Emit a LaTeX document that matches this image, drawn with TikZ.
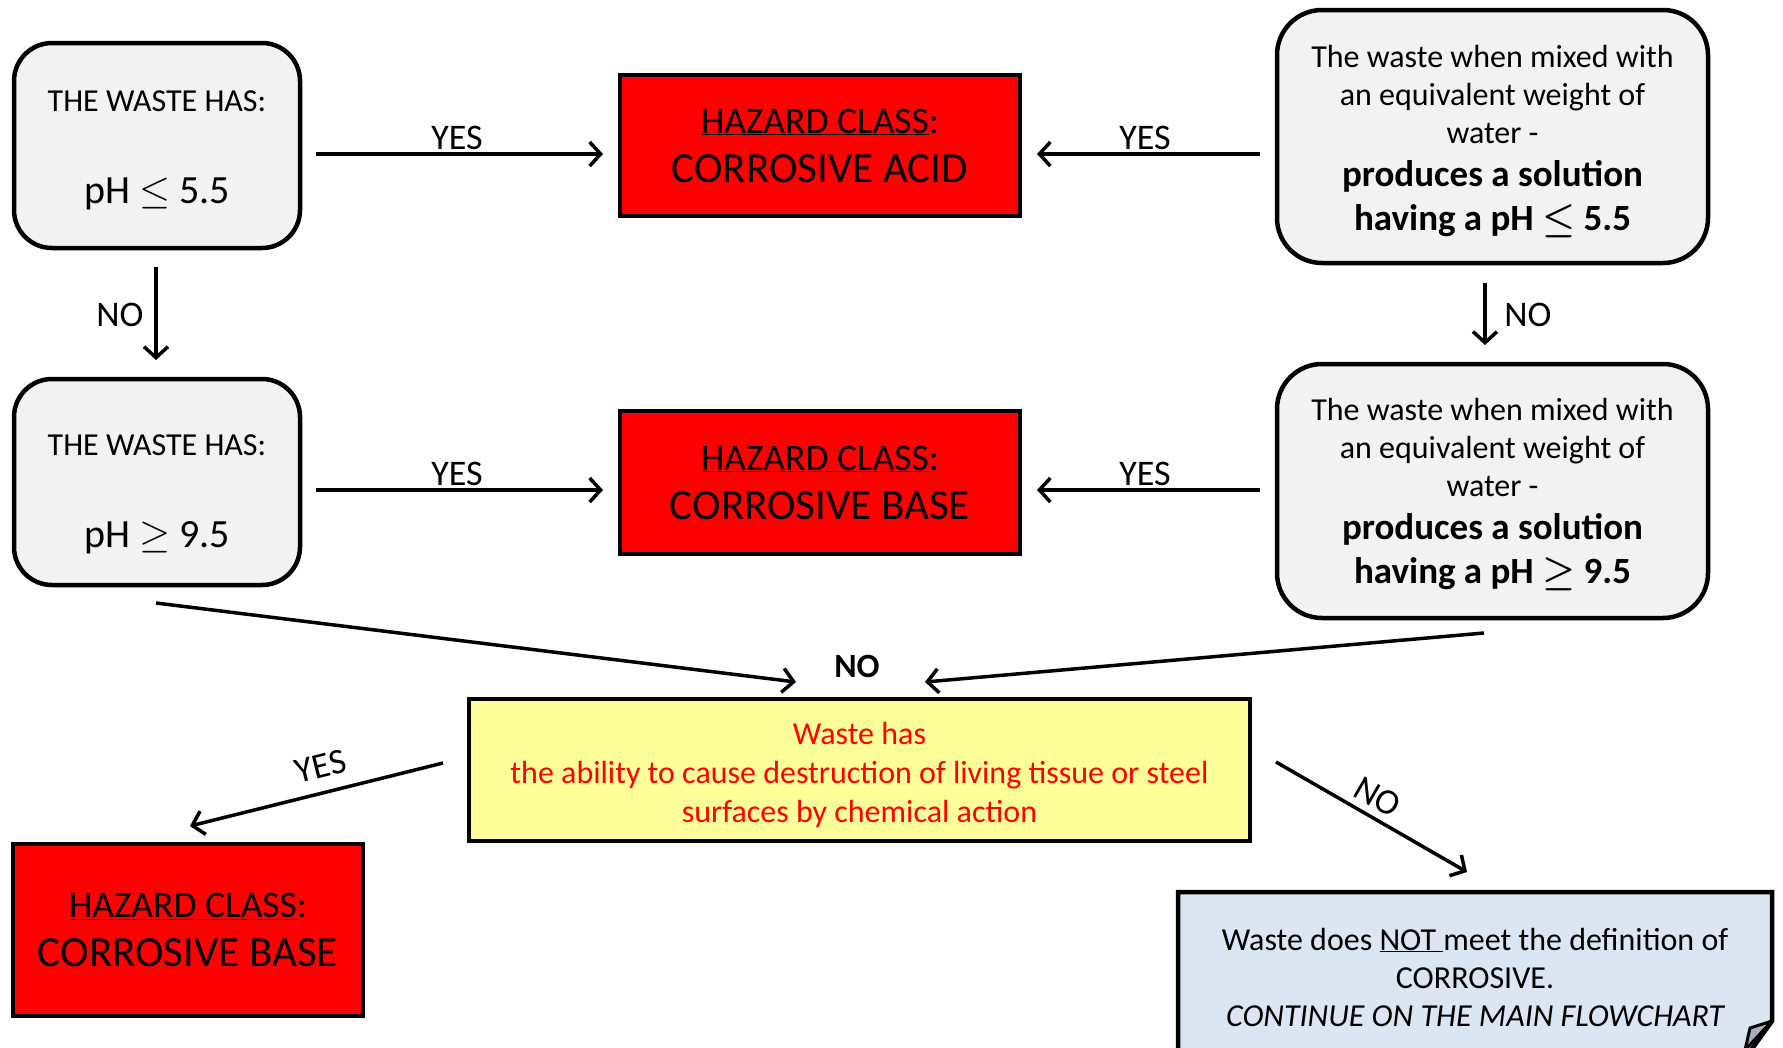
\RequirePackage{fix-cm}
\documentclass[tikz,border=0pt]{standalone}
\usepackage{fontspec}
\setmainfont{Carlito}
\usetikzlibrary{arrows.meta}
\definecolor{boxgray}{HTML}{F2F2F2}
\definecolor{hazred}{HTML}{FF0000}
\definecolor{qyellow}{HTML}{FFFF99}
\definecolor{endblue}{HTML}{DCE6F2}
\definecolor{foldgray}{HTML}{A7AFBC}
\begin{document}
\begin{tikzpicture}[x=1pt,y=-1pt,
  qbox/.style={draw,line width=4.5pt,rounded corners=38pt,fill=boxgray,inner sep=0pt},
  hazbox/.style={draw,line width=4.5pt,fill=hazred,inner sep=0pt,align=center,font=\fontsize{40}{49}\selectfont},
  txt/.style={inner sep=0pt,align=center},
  arr/.style={line width=3.5pt,-{Straight Barb[length=11pt,width=24pt]}},
  lbl/.style={inner sep=0pt,font=\fontsize{36}{40}\selectfont},
]
\useasboundingbox (0,0) rectangle (1783,1047);

% left question boxes
\node[qbox,minimum width=286pt,minimum height=205pt] (A) at (157,145.5) {};
\node[txt,font=\fontsize{32}{34}\selectfont,yshift=-4.5pt] (At) at (A)
  {THE WASTE HAS:\\[58pt]{\fontsize{40}{44}\selectfont pH $\leq$ 5.5}};
\node[qbox,minimum width=286pt,minimum height=206pt] (B) at (157,482) {};
\node[txt,font=\fontsize{32}{34}\selectfont,yshift=-12.5pt] (Bt) at (B)
  {THE WASTE HAS:\\[58pt]{\fontsize{40}{44}\selectfont pH $\geq$ 9.5}};

% hazard boxes
\node[hazbox,minimum width=400pt,minimum height=141pt] (acid) at (820,145.5)
  {{\fontsize{37.5}{40}\selectfont\underline{HAZARD CLASS}:}\\{\fontsize{43}{45}\selectfont CORROSIVE ACID}};
\node[hazbox,minimum width=400pt,minimum height=143pt] (base) at (820,482.5)
  {{\fontsize{37.5}{40}\selectfont\underline{HAZARD CLASS}:}\\{\fontsize{43}{45}\selectfont CORROSIVE BASE}};
\node[hazbox,minimum width=350pt,minimum height=172pt] (base2) at (188,930)
  {{\fontsize{37.5}{40}\selectfont\underline{HAZARD CLASS}:}\\{\fontsize{43}{45}\selectfont CORROSIVE BASE}};

% right question boxes
\node[qbox,rounded corners=45pt,minimum width=431pt,minimum height=253pt] (C) at (1492.5,136.5) {};
\node[txt,font=\fontsize{32}{38}\selectfont,yshift=-5.5pt] (Ct) at (C)
  {The waste when mixed with\\an equivalent weight of\\water -\\[5pt]
   \bfseries\fontsize{37}{38}\selectfont produces a solution\\[6pt]
   \bfseries\fontsize{37}{38}\selectfont having a pH {\boldmath$\leq$} 5.5};
\node[qbox,rounded corners=45pt,minimum width=431pt,minimum height=254pt] (D) at (1492.5,491) {};
\node[txt,font=\fontsize{32}{38}\selectfont,yshift=-3.5pt] (Dt) at (D)
  {The waste when mixed with\\an equivalent weight of\\water -\\[5pt]
   \bfseries\fontsize{37}{38}\selectfont produces a solution\\[6pt]
   \bfseries\fontsize{37}{38}\selectfont having a pH {\boldmath$\geq$} 9.5};

% yellow question
\node[draw,line width=4.5pt,fill=qyellow,minimum width=781pt,minimum height=142pt,inner sep=0pt] (Y) at (859.5,770) {};
\node[txt,text=red,font=\fontsize{32}{39}\selectfont,yshift=-4.5pt] (Yt) at (Y)
  {Waste has\\the ability to cause destruction of living tissue or steel\\surfaces by chemical action};

% final blue note with folded corner
\draw[line width=4.5pt,fill=endblue,line join=miter] (1178,1060) -- (1178,892) -- (1772,892) -- (1772,1021) -- (1744,1060);
\draw[line width=3pt,fill=foldgray,line join=round] (1772,1021) -- (1750,1028) -- (1745,1050) -- cycle;
\node[txt,font=\fontsize{32}{38}\selectfont] (N) at (1475,977)
  {Waste does \underline{NOT\ }meet the definition of\\CORROSIVE.\\\itshape CONTINUE ON THE MAIN FLOWCHART};

% connector end points
\coordinate (a1) at (316,154);  \coordinate (a2) at (603,154);
\coordinate (c1) at (1260,154); \coordinate (c2) at (1037,154);
\coordinate (b1) at (316,490);  \coordinate (b2) at (603,490);
\coordinate (d1) at (1260,490); \coordinate (d2) at (1037,490);
\coordinate (ab1) at (156,267); \coordinate (ab2) at (156,360);
\coordinate (cd1) at (1485,283); \coordinate (cd2) at (1485,345);
\coordinate (by1) at (156,603); \coordinate (by2) at (796,682);
\coordinate (dy1) at (1484,633); \coordinate (dy2) at (925,682);
\coordinate (yl1) at (443,763); \coordinate (yl2) at (190,826);
\coordinate (yr1) at (1276,762); \coordinate (yr2) at (1467,872);

\draw[arr] (a1) -- (a2);
\draw[arr] (c1) -- (c2);
\draw[arr] (b1) -- (b2);
\draw[arr] (d1) -- (d2);
\draw[arr] (ab1) -- (ab2);
\draw[arr] (cd1) -- (cd2);
\draw[arr] (by1) -- (by2);
\draw[arr] (dy1) -- (dy2);
\draw[arr] (yl1) -- (yl2);
\draw[arr] (yr1) -- (yr2);

% labels
\node[lbl,anchor=base] (l1) at (457,149) {YES};
\node[lbl,anchor=base] (l2) at (1145,149) {YES};
\node[lbl,anchor=base] (l3) at (457,485) {YES};
\node[lbl,anchor=base] (l4) at (1145,485) {YES};
\node[lbl] (l5) at (120,315) {NO};
\node[lbl] (l6) at (1528,315) {NO};
\node[lbl,font=\fontsize{34}{38}\selectfont\bfseries] (l7) at (857,666) {NO};
\node[lbl,rotate=14] (l8) at (321,766) {YES};
\node[lbl,rotate=-30] (l9) at (1378,797) {NO};
\end{tikzpicture}
\end{document}
